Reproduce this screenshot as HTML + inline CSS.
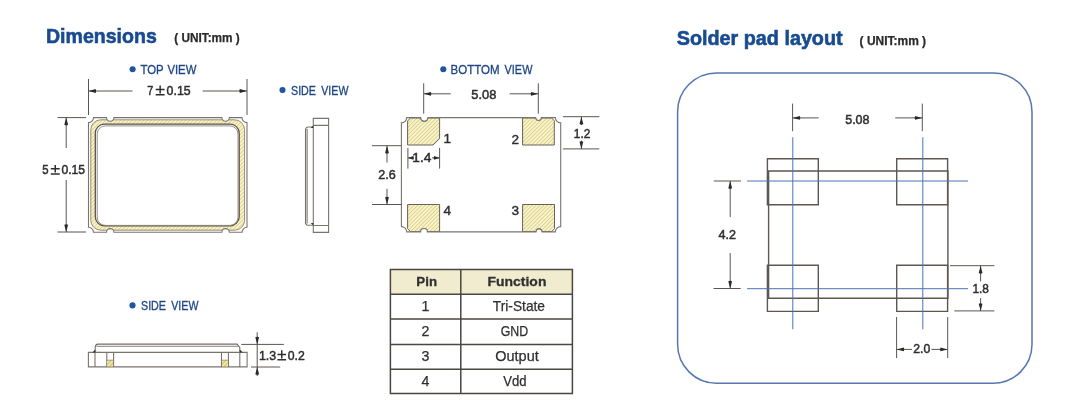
<!DOCTYPE html>
<html><head><meta charset="utf-8"><style>
html,body{margin:0;padding:0;background:#fff;}
body{width:1080px;height:420px;overflow:hidden;}
svg{display:block;will-change:transform;}
text{font-family:"Liberation Sans",sans-serif;}
</style></head><body>
<svg width="1080" height="420" viewBox="0 0 1080 420">
<defs><pattern id="h" patternUnits="userSpaceOnUse" width="2.7" height="2.7" patternTransform="rotate(45)">
<rect width="2.7" height="2.7" fill="#f9f4d0"/>
<rect x="0" y="0" width="0.9" height="2.7" fill="#dccf84"/>
</pattern>
<pattern id="h2" patternUnits="userSpaceOnUse" width="3" height="3" patternTransform="rotate(45)">
<rect width="3" height="3" fill="#f5ec9e"/>
<rect x="0" y="0" width="1.1" height="3" fill="#d2c25a"/>
</pattern></defs>
<text x="46.0" y="43.2" font-size="20.4" fill="#184b90" font-weight="bold" stroke="#184b90" stroke-width="0.6" textLength="110.8" lengthAdjust="spacingAndGlyphs">Dimensions</text>
<text x="174.3" y="42.4" font-size="12" fill="#2a2a2a" font-weight="bold" stroke="#2a2a2a" stroke-width="0.25" textLength="65.5" lengthAdjust="spacingAndGlyphs">( UNIT:mm )</text>
<text x="676.8" y="45.4" font-size="20.0" fill="#184b90" font-weight="bold" stroke="#184b90" stroke-width="0.6" textLength="165.8" lengthAdjust="spacingAndGlyphs">Solder pad layout</text>
<text x="859.6" y="45.4" font-size="12" fill="#2a2a2a" font-weight="bold" stroke="#2a2a2a" stroke-width="0.25" textLength="66.5" lengthAdjust="spacingAndGlyphs">( UNIT:mm )</text>
<circle cx="132.6" cy="69.3" r="3.05" fill="#1d55a0"/>
<text x="140.5" y="74.2" font-size="12" fill="#1e4686" stroke="#1e4686" stroke-width="0.3" textLength="23.19999999999999" lengthAdjust="spacingAndGlyphs">TOP</text>
<text x="167.4" y="74.2" font-size="12" fill="#1e4686" stroke="#1e4686" stroke-width="0.3" textLength="29.0" lengthAdjust="spacingAndGlyphs">VIEW</text>
<circle cx="282.5" cy="90.1" r="3.05" fill="#1d55a0"/>
<text x="291.0" y="94.6" font-size="12" fill="#1e4686" stroke="#1e4686" stroke-width="0.3" textLength="25.0" lengthAdjust="spacingAndGlyphs">SIDE</text>
<text x="321.3" y="94.6" font-size="12" fill="#1e4686" stroke="#1e4686" stroke-width="0.3" textLength="27.099999999999966" lengthAdjust="spacingAndGlyphs">VIEW</text>
<circle cx="443.3" cy="69.3" r="3.05" fill="#1d55a0"/>
<text x="450.6" y="74.1" font-size="12" fill="#1e4686" stroke="#1e4686" stroke-width="0.3" textLength="49.0" lengthAdjust="spacingAndGlyphs">BOTTOM</text>
<text x="504.6" y="74.1" font-size="12" fill="#1e4686" stroke="#1e4686" stroke-width="0.3" textLength="27.799999999999955" lengthAdjust="spacingAndGlyphs">VIEW</text>
<circle cx="132.5" cy="305.4" r="3.05" fill="#1d55a0"/>
<text x="141.0" y="310.2" font-size="12" fill="#1e4686" stroke="#1e4686" stroke-width="0.3" textLength="25.0" lengthAdjust="spacingAndGlyphs">SIDE</text>
<text x="171.3" y="310.2" font-size="12" fill="#1e4686" stroke="#1e4686" stroke-width="0.3" textLength="27.099999999999994" lengthAdjust="spacingAndGlyphs">VIEW</text>
<path d="M88.5 79V116 M247 79V116 M88.5 91H132.5 M202.5 91H247" stroke="#5a5550" stroke-width="1.0" fill="none"/>
<path d="M88.5 91L95.7 89.1Q96.7 91 95.7 92.9Z" fill="#2a2a2a"/>
<path d="M247 91L239.8 89.1Q238.8 91 239.8 92.9Z" fill="#2a2a2a"/>
<text x="147.2" y="95.3" font-size="13.4" fill="#2e2e2e" stroke="#2e2e2e" stroke-width="0.5" textLength="6" lengthAdjust="spacingAndGlyphs">7</text>
<path d="M160.15 85.4V93.40 M155.7 89.4H164.6 M155.7 94.7H164.6" stroke="#2e2e2e" stroke-width="1.5" fill="none"/>
<text x="166.6" y="95.3" font-size="13.4" fill="#2e2e2e" stroke="#2e2e2e" stroke-width="0.5" textLength="24" lengthAdjust="spacingAndGlyphs">0.15</text>
<path d="M57.5 117.6H87 M57.5 232H87 M66.2 117.6V148 M66.2 180V232" stroke="#5a5550" stroke-width="1.0" fill="none"/>
<path d="M66.2 117.6L64.3 124.8Q66.2 125.8 68.1 124.8Z" fill="#2a2a2a"/>
<path d="M66.2 232L64.3 224.8Q66.2 223.8 68.1 224.8Z" fill="#2a2a2a"/>
<text x="42.3" y="174.4" font-size="13.4" fill="#2e2e2e" stroke="#2e2e2e" stroke-width="0.5" textLength="6.3" lengthAdjust="spacingAndGlyphs">5</text>
<path d="M55.25 164.9V172.50 M50.8 168.7H59.7 M50.8 174H59.7" stroke="#2e2e2e" stroke-width="1.5" fill="none"/>
<text x="61.5" y="174.4" font-size="13.4" fill="#2e2e2e" stroke="#2e2e2e" stroke-width="0.5" textLength="23.6" lengthAdjust="spacingAndGlyphs">0.15</text>
<rect x="90.8" y="119.8" width="153.8" height="110.4" rx="10" fill="url(#h)" stroke="#8a8370" stroke-width="0.9"/>
<rect x="95.3" y="124.2" width="143.9" height="101.6" rx="9" fill="#fff" stroke="#58524b" stroke-width="1.3"/>
<rect x="97.2" y="125.9" width="140.8" height="99.5" rx="8.2" fill="none" stroke="#8a847e" stroke-width="0.9"/>
<path fill="#fff" fill-rule="evenodd" d="M86 115H250V235H86Z M93.5 117.6H106.5A3.70 3.70 0 0 0 113.9 117.6H221.9A3.70 3.70 0 0 0 229.3 117.6H242A5 5 0 0 0 247 122.6V227.3A5 5 0 0 0 242 232.3H229.3A3.70 3.70 0 0 0 221.9 232.3H113.9A3.70 3.70 0 0 0 106.5 232.3H93.5A5 5 0 0 0 88.5 227.3V122.6A5 5 0 0 0 93.5 117.6Z"/>
<path stroke="#7a746e" stroke-width="1.1" fill="none" d="M93.5 117.6H106.5A3.70 3.70 0 0 0 113.9 117.6H221.9A3.70 3.70 0 0 0 229.3 117.6H242A5 5 0 0 0 247 122.6V227.3A5 5 0 0 0 242 232.3H229.3A3.70 3.70 0 0 0 221.9 232.3H113.9A3.70 3.70 0 0 0 106.5 232.3H93.5A5 5 0 0 0 88.5 227.3V122.6A5 5 0 0 0 93.5 117.6Z"/>
<path stroke="#7a746e" stroke-width="1.1" fill="none" d="M313.3 118.4H328.6V232.4H313.3Z M313.3 125.4H328.6 M313.3 225.5H328.6 M313.3 127H308.5Q305.5 127 305.5 130V223.5L307 225.2H313.3 M307.1 129V223.5"/>
<path fill="#333" d="M313.3 125.4v2.6h-2.6z M313.3 225.5v-2.6h-2.6z"/>
<path d="M423.7 83.3V113.7 M538.3 83.3V113.7 M423.7 93.8H450.8 M509.7 93.8H538.3" stroke="#5a5550" stroke-width="1.0" fill="none"/>
<path d="M423.7 93.8L430.9 91.9Q431.9 93.8 430.9 95.7Z" fill="#2a2a2a"/>
<path d="M538.3 93.8L531.1 91.9Q530.1 93.8 531.1 95.7Z" fill="#2a2a2a"/>
<text x="471.3" y="98.7" font-size="13.4" fill="#2e2e2e" stroke="#2e2e2e" stroke-width="0.5" textLength="25" lengthAdjust="spacingAndGlyphs">5.08</text>
<path d="M410.5 117.9H420.7A3.6 3.6 0 0 0 427.9 117.9H439.6V138.6L433 145H407.6V121Z" fill="url(#h)" stroke="#6a6258" stroke-width="1"/>
<path d="M522.6 117.9H535.7A2.9 2.9 0 0 0 541.4 117.9H551.5L554.3 120.8V145H522.6Z" fill="url(#h)" stroke="#6a6258" stroke-width="1"/>
<path d="M407.6 204.5H439.6V231.7H427.4A3.4 3.4 0 0 0 420.6 231.7H410.6L407.6 228.7Z" fill="url(#h)" stroke="#6a6258" stroke-width="1"/>
<path d="M522.6 204.5H554.5V228.7L551.5 231.7H542A3 3 0 0 0 536 231.7H522.6Z" fill="url(#h)" stroke="#6a6258" stroke-width="1"/>
<path fill="#fff" fill-rule="evenodd" d="M399 115H563V234H399Z M406.7 117.6H420.7A3.60 3.60 0 0 0 427.9 117.6H535.7A2.85 2.85 0 0 0 541.4 117.6H555.4000000000001A5.3 5.3 0 0 0 560.7 122.89999999999999V226.6A5.3 5.3 0 0 0 555.4000000000001 231.9H542A3.00 3.00 0 0 0 536 231.9H427.4A3.40 3.40 0 0 0 420.6 231.9H406.7A5.3 5.3 0 0 0 401.4 226.6V122.89999999999999A5.3 5.3 0 0 0 406.7 117.6Z"/>
<path stroke="#7a746e" stroke-width="1.1" fill="none" d="M406.7 117.6H420.7A3.60 3.60 0 0 0 427.9 117.6H535.7A2.85 2.85 0 0 0 541.4 117.6H555.4000000000001A5.3 5.3 0 0 0 560.7 122.89999999999999V226.6A5.3 5.3 0 0 0 555.4000000000001 231.9H542A3.00 3.00 0 0 0 536 231.9H427.4A3.40 3.40 0 0 0 420.6 231.9H406.7A5.3 5.3 0 0 0 401.4 226.6V122.89999999999999A5.3 5.3 0 0 0 406.7 117.6Z"/>
<text x="443.6" y="143.2" font-size="13.6" fill="#2e2e2e" stroke="#2e2e2e" stroke-width="0.4">1</text>
<text x="511.4" y="143.6" font-size="13.6" fill="#2e2e2e" stroke="#2e2e2e" stroke-width="0.4">2</text>
<text x="511.4" y="215" font-size="13.6" fill="#2e2e2e" stroke="#2e2e2e" stroke-width="0.4">3</text>
<text x="443.6" y="215" font-size="13.6" fill="#2e2e2e" stroke="#2e2e2e" stroke-width="0.4">4</text>
<path d="M407.9 147.9V168.6 M439.6 147.9V168.6 M407.9 157.9H412 M432 157.9H439.6" stroke="#5a5550" stroke-width="1.0" fill="none"/>
<path d="M407.9 157.9L413.4 156.0Q414.4 157.9 413.4 159.8Z" fill="#2a2a2a"/>
<path d="M439.6 157.9L434.1 156.0Q433.1 157.9 434.1 159.8Z" fill="#2a2a2a"/>
<text x="412.3" y="162.2" font-size="13.4" fill="#2e2e2e" stroke="#2e2e2e" stroke-width="0.5" textLength="19" lengthAdjust="spacingAndGlyphs">1.4</text>
<path d="M372 145.7H401.3 M372 204.5H401.3 M387 145.7V162.5 M387 188.8V204.5" stroke="#5a5550" stroke-width="1.0" fill="none"/>
<path d="M387 145.7L385.1 152.9Q387 153.9 388.9 152.9Z" fill="#2a2a2a"/>
<path d="M387 204.5L385.1 197.3Q387 196.3 388.9 197.3Z" fill="#2a2a2a"/>
<text x="378.3" y="179.3" font-size="13.4" fill="#2e2e2e" stroke="#2e2e2e" stroke-width="0.5" textLength="17.5" lengthAdjust="spacingAndGlyphs">2.6</text>
<path d="M562.9 116.7H599.3 M562.9 148.9H599.3 M581.4 116.7V125 M581.4 140.5V148.9" stroke="#5a5550" stroke-width="1.0" fill="none"/>
<path d="M581.4 116.7L579.5 123.9Q581.4 124.9 583.3 123.9Z" fill="#2a2a2a"/>
<path d="M581.4 148.9L579.5 141.7Q581.4 140.7 583.3 141.7Z" fill="#2a2a2a"/>
<text x="573.8" y="137.9" font-size="13.4" fill="#2e2e2e" stroke="#2e2e2e" stroke-width="0.5" textLength="16.5" lengthAdjust="spacingAndGlyphs">1.2</text>
<path stroke="#7a746e" stroke-width="1.1" fill="none" d="M88.4 352.4H247.1V366.9H88.4Z M95 352.4V366.9 M239.8 352.4V366.9 M106.8 352.4V366.9 M113.6 352.4V366.9 M221.5 352.4V366.9 M228.4 352.4V366.9"/>
<rect x="107.3" y="360.4" width="5.8" height="6" fill="url(#h2)"/>
<rect x="222" y="360.4" width="5.9" height="6" fill="url(#h2)"/>
<path stroke="#8a8178" stroke-width="0.8" fill="none" d="M107 360.2H113.4 M221.7 360.2H228.2"/>
<path stroke="#766d66" stroke-width="1.1" fill="none" d="M95.2 352.4V347.2Q95.5 344.1 98 344.1H237.1L239.8 347.5V352.4"/>
<path stroke="#8b837b" stroke-width="1" fill="none" d="M96.5 346.3H238.4"/>
<path fill="#333" d="M95.3 349.4V352.4H92.3Z M239.8 349.4V352.4H242.8Z"/>
<path d="M241.3 344.4H283.9 M251 367H280.2 M257.2 332.2V376.1" stroke="#5a5550" stroke-width="1.0" fill="none"/>
<path d="M257.2 344.4L255.3 337.2Q257.2 336.2 259.1 337.2Z" fill="#2a2a2a"/>
<path d="M257.2 367L255.3 374.2Q257.2 375.2 259.1 374.2Z" fill="#2a2a2a"/>
<text x="258.9" y="360.3" font-size="13.4" fill="#2e2e2e" stroke="#2e2e2e" stroke-width="0.5" textLength="17.2" lengthAdjust="spacingAndGlyphs">1.3</text>
<path d="M281.75 350.2V358.60 M277.4 354.4H286.1 M277.4 359.8H286.1" stroke="#2e2e2e" stroke-width="1.5" fill="none"/>
<text x="287.7" y="360.3" font-size="13.4" fill="#2e2e2e" stroke="#2e2e2e" stroke-width="0.5" textLength="17" lengthAdjust="spacingAndGlyphs">0.2</text>
<rect x="390.4" y="269.6" width="182" height="24.7" fill="#f1ebcf"/>
<path d="M390.4 269.6H572.4V393.5H390.4Z M390.4 294.3H572.4 M390.4 319H572.4 M390.4 344.4H572.4 M390.4 369.3H572.4 M460.8 269.6V393.5" stroke="#4a4642" stroke-width="1.5" fill="none"/>
<text x="426.7" y="286.2" font-size="13.6" fill="#303030" font-weight="bold" stroke="#303030" stroke-width="0.3" text-anchor="middle" textLength="20.7" lengthAdjust="spacingAndGlyphs">Pin</text>
<text x="517" y="286.4" font-size="13.6" fill="#303030" font-weight="bold" stroke="#303030" stroke-width="0.3" text-anchor="middle" textLength="58.8" lengthAdjust="spacingAndGlyphs">Function</text>
<text x="425.4" y="311.2" font-size="14.2" fill="#303030" stroke="#303030" stroke-width="0.25" text-anchor="middle">1</text>
<text x="518.9" y="311.2" font-size="14.2" fill="#303030" stroke="#303030" stroke-width="0.25" text-anchor="middle" textLength="52.2" lengthAdjust="spacingAndGlyphs">Tri-State</text>
<text x="425.4" y="336.3" font-size="14.2" fill="#303030" stroke="#303030" stroke-width="0.25" text-anchor="middle">2</text>
<text x="514.5" y="336.3" font-size="14.2" fill="#303030" stroke="#303030" stroke-width="0.25" text-anchor="middle" textLength="27.5" lengthAdjust="spacingAndGlyphs">GND</text>
<text x="425.4" y="361.2" font-size="14.2" fill="#303030" stroke="#303030" stroke-width="0.25" text-anchor="middle">3</text>
<text x="517" y="361.2" font-size="14.2" fill="#303030" stroke="#303030" stroke-width="0.25" text-anchor="middle" textLength="43.5" lengthAdjust="spacingAndGlyphs">Output</text>
<text x="425.4" y="385.8" font-size="14.2" fill="#303030" stroke="#303030" stroke-width="0.25" text-anchor="middle">4</text>
<text x="515" y="385.8" font-size="14.2" fill="#303030" stroke="#303030" stroke-width="0.25" text-anchor="middle" textLength="23.3" lengthAdjust="spacingAndGlyphs">Vdd</text>
<rect x="677.6" y="72.9" width="354.4" height="310.4" rx="39" fill="none" stroke="#5677b0" stroke-width="1.5"/>
<path d="M792.6 103.6V131.2 M922.3 103.6V131.2 M792.6 117.9H818.7 M895.2 117.9H922.3" stroke="#5a5550" stroke-width="1.0" fill="none"/>
<path d="M792.6 117.9L799.8 116.0Q800.8 117.9 799.8 119.8Z" fill="#2a2a2a"/>
<path d="M922.3 117.9L915.1 116.0Q914.1 117.9 915.1 119.8Z" fill="#2a2a2a"/>
<text x="845.2" y="123.6" font-size="13.4" fill="#2e2e2e" stroke="#2e2e2e" stroke-width="0.5" textLength="24.3" lengthAdjust="spacingAndGlyphs">5.08</text>
<path stroke="#5e5650" stroke-width="1.4" fill="none" d="M768.6 171H947.9V298.3H768.6Z"/>
<path stroke="#5e5650" stroke-width="1.4" fill="none" d="M767.4 158.8H818.3V204.8H767.4Z M896.7 158.8H947.6V204.8H896.7Z M767.4 265.3H818.3V311.4H767.4Z M896.7 265.3H947.6V311.4H896.7Z"/>
<path stroke="#4a72b5" stroke-width="1" fill="none" d="M792.8 137.3V329.3 M922.8 137.3V329.3 M747.1 181H968 M747.1 288.7H968"/>
<path d="M713.8 181H741 M713.5 288.5H740.7 M730.2 181V217.1 M730.2 253V288.5" stroke="#5a5550" stroke-width="1.0" fill="none"/>
<path d="M730.2 181L728.3 188.2Q730.2 189.2 732.1 188.2Z" fill="#2a2a2a"/>
<path d="M730.2 288.5L728.3 281.3Q730.2 280.3 732.1 281.3Z" fill="#2a2a2a"/>
<text x="718.5" y="238.6" font-size="13.4" fill="#2e2e2e" stroke="#2e2e2e" stroke-width="0.5" textLength="17.5" lengthAdjust="spacingAndGlyphs">4.2</text>
<path d="M950 265.7H994.3 M954.3 310.9H994.3 M980.6 265.7V281.4 M980.6 298V310.9" stroke="#5a5550" stroke-width="1.0" fill="none"/>
<path d="M980.6 265.7L978.7 272.9Q980.6 273.9 982.5 272.9Z" fill="#2a2a2a"/>
<path d="M980.6 310.9L978.7 303.7Q980.6 302.7 982.5 303.7Z" fill="#2a2a2a"/>
<text x="972.4" y="292.9" font-size="13.4" fill="#2e2e2e" stroke="#2e2e2e" stroke-width="0.5" textLength="16.5" lengthAdjust="spacingAndGlyphs">1.8</text>
<path d="M896.6 317V358 M947.7 317V358 M896.6 349.4H912 M931.5 349.4H947.7" stroke="#5a5550" stroke-width="1.0" fill="none"/>
<path d="M896.6 349.4L903.8 347.5Q904.8 349.4 903.8 351.3Z" fill="#2a2a2a"/>
<path d="M947.7 349.4L940.5 347.5Q939.5 349.4 940.5 351.3Z" fill="#2a2a2a"/>
<text x="913.2" y="353.4" font-size="13.4" fill="#2e2e2e" stroke="#2e2e2e" stroke-width="0.5" textLength="17" lengthAdjust="spacingAndGlyphs">2.0</text>
</svg>
</body></html>
